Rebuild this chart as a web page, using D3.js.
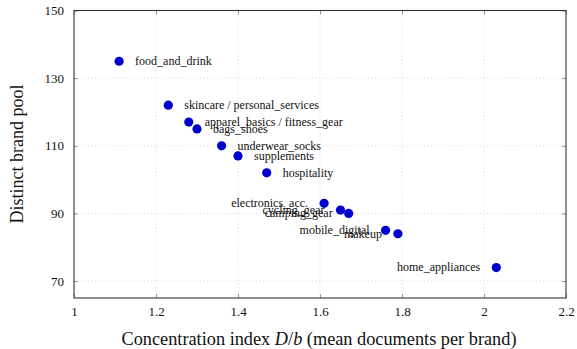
<!DOCTYPE html>
<html>
<head>
<meta charset="utf-8">
<script src="https://cdn.jsdelivr.net/npm/d3@7"></script>
<style>
  body { margin: 0; background: #fff; }
  svg text { font-family: "Liberation Serif", "DejaVu Serif", serif; fill: #111; }
</style>
</head>
<body>
<svg id="chart" width="577" height="349"></svg>
<script>
// Catégories et valeurs
var categories = ["food_and_drink", "skincare / personal_services", "apparel_basics / fitness_gear",
                  "bags_shoes", "underwear_socks", "supplements", "hospitality",
                  "electronics_acc.", "cycling_gear", "camping_gear", "mobile_digital",
                  "makeup", "home_appliances"];
var concentration = [1.11, 1.23, 1.28, 1.30, 1.36, 1.40, 1.47, 1.61, 1.65, 1.67, 1.76, 1.79, 2.03];
var brand_pool    = [135, 122, 117, 115, 110, 107, 102, 93, 91, 90, 85, 84, 74];
// côté de l'étiquette : 1 = droite, -1 = gauche
var label_side    = [1, 1, 1, 1, 1, 1, 1, -1, -1, -1, -1, -1, -1];

var x_ticks = [1, 1.2, 1.4, 1.6, 1.8, 2, 2.2];
var y_ticks = [70, 90, 110, 130, 150];

var svg = d3.select("#chart");
var m_left = 74, m_right = 566, m_top = 10.5, m_bottom = 298;

var x = d3.scaleLinear().domain([1, 2.2]).range([m_left, m_right]);
var y = d3.scaleLinear().domain([65, 150]).range([m_bottom, m_top]);

var g = svg.append("g");

// Grille pointillée
g.selectAll(".gx").data(x_ticks.slice(1, -1)).enter().append("line")
    .attr("x1", d => x(d)).attr("x2", d => x(d))
    .attr("y1", m_top).attr("y2", m_bottom)
    .attr("stroke", "#cfcfcf").attr("stroke-width", 0.8)
    .attr("stroke-dasharray", "1,2.5");
g.selectAll(".gy").data(y_ticks.slice(0, -1)).enter().append("line")
    .attr("x1", m_left).attr("x2", m_right)
    .attr("y1", d => y(d)).attr("y2", d => y(d))
    .attr("stroke", "#cfcfcf").attr("stroke-width", 0.8)
    .attr("stroke-dasharray", "1,2.5");

// Axes (ticks vers l'intérieur, sur les quatre côtés)
var ax_bottom = g.append("g").attr("transform", `translate(0,${m_bottom})`)
    .call(d3.axisBottom(x).tickValues(x_ticks).tickSizeInner(-4).tickSizeOuter(0).tickPadding(9)
        .tickFormat(d => String(+d.toFixed(1))));
var ax_top = g.append("g").attr("transform", `translate(0,${m_top})`)
    .call(d3.axisTop(x).tickValues(x_ticks).tickSizeInner(-4).tickSizeOuter(0).tickFormat(""));
var ax_left = g.append("g").attr("transform", `translate(${m_left},0)`)
    .call(d3.axisLeft(y).tickValues(y_ticks).tickSizeInner(-4).tickSizeOuter(0).tickPadding(10));
var ax_right = g.append("g").attr("transform", `translate(${m_right},0)`)
    .call(d3.axisRight(y).tickValues(y_ticks).tickSizeInner(-4).tickSizeOuter(0).tickFormat(""));

[ax_bottom, ax_top, ax_left, ax_right].forEach(a => {
    a.select(".domain").remove();
    a.selectAll(".tick line").attr("stroke", "#999").attr("stroke-width", 1);
    a.selectAll("text").attr("font-size", "13px")
        .attr("font-family", "Liberation Serif").attr("fill", "#111");
});

// Cadre
g.append("rect")
    .attr("x", m_left).attr("y", m_top)
    .attr("width", m_right - m_left).attr("height", m_bottom - m_top)
    .attr("fill", "none").attr("stroke", "#333").attr("stroke-width", 1.1);

// Points et étiquettes
var pts = categories.map((c, i) => ({name: c, cx: concentration[i], cy: brand_pool[i], side: label_side[i]}));

g.selectAll(".pt").data(pts).enter().append("circle")
    .attr("cx", d => x(d.cx)).attr("cy", d => y(d.cy))
    .attr("r", 4.6).attr("fill", "#0000cc");

g.selectAll(".lbl").data(pts).enter().append("text")
    .attr("x", d => x(d.cx) + d.side * 16)
    .attr("y", d => y(d.cy))
    .attr("dy", "0.32em")
    .attr("text-anchor", d => d.side > 0 ? "start" : "end")
    .attr("font-size", "12px")
    .text(d => d.name);

// Titres des axes
var xl = svg.append("text")
    .attr("x", 319).attr("y", 345)
    .attr("text-anchor", "middle").attr("font-size", "18.3px");
xl.append("tspan").text("Concentration index ");
xl.append("tspan").attr("font-style", "italic").text("D");
xl.append("tspan").text("/");
xl.append("tspan").attr("font-style", "italic").text("b");
xl.append("tspan").text(" (mean documents per brand)");

svg.append("text")
    .attr("transform", `translate(23,154) rotate(-90)`)
    .attr("text-anchor", "middle").attr("font-size", "18px")
    .text("Distinct brand pool");
</script>
</body>
</html>
